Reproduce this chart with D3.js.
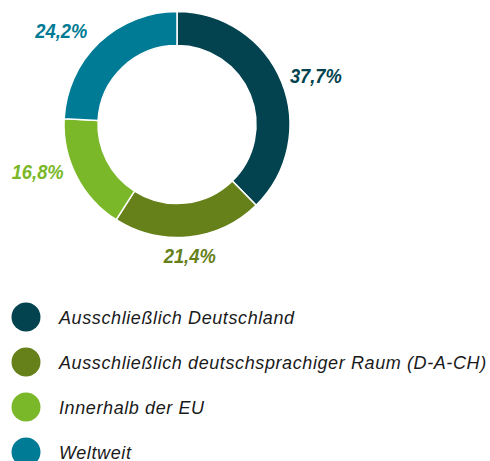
<!DOCTYPE html>
<html>
<head>
<meta charset="utf-8">
<script src="https://cdn.jsdelivr.net/npm/d3@7"></script>
<style>
   body { margin: 0; background: #fff; }
   svg { display: block; }
</style>
</head>
<body>
<div id="chart"></div>
<script>
// Chart data
var categories = [
   "Ausschließlich Deutschland",
   "Ausschließlich deutschsprachiger Raum (D-A-CH)",
   "Innerhalb der EU",
   "Weltweit"
];
var values = [37.7, 21.4, 16.8, 24.2];
var valueLabels = ["37,7%", "21,4%", "16,8%", "24,2%"];
var colors = ["#02434f", "#66801a", "#7ab829", "#007b95"];

// small hand tweaks of the label placement (dx, dy)
var labelNudge = [[-1, -2], [0, -4], [-4, -9], [-5, -5]];

var width = 490, height = 461;
var cx = 177, cy = 124.5;
var outerR = 113, innerR = 79, labelR = 123;

var svg = d3.select("#chart")
   .append("svg")
   .attr("width", width)
   .attr("height", height);

var pie = d3.pie().sort(null).value(function (d) { return d; });
var arc = d3.arc().innerRadius(innerR).outerRadius(outerR);

var data = pie(values);

var g = svg.append("g")
   .attr("transform", "translate(" + cx + "," + cy + ")");

// Donut slices
g.selectAll("path")
   .data(data)
   .enter().append("path")
   .attr("d", arc)
   .attr("fill", function (d, i) { return colors[i]; })
   .attr("stroke", "#fff")
   .attr("stroke-width", 1.5);

// Percentage labels outside the ring
g.selectAll("text.pct")
   .data(data)
   .enter().append("text")
   .attr("class", "pct")
   .each(function (d, i) {
      var a = (d.startAngle + d.endAngle) / 2;
      var sx = Math.sin(a), sy = -Math.cos(a);
      var t = d3.select(this);
      var anchor = "middle", dy = "0.35em";
      if (Math.abs(sx) < 0.3) {
         dy = sy > 0 ? "0.95em" : "-0.2em";
      } else {
         anchor = sx > 0 ? "start" : "end";
      }
      t.attr("x", sx * labelR + labelNudge[i][0])
         .attr("y", sy * labelR + labelNudge[i][1])
         .attr("dy", dy)
         .attr("text-anchor", anchor)
         .attr("fill", colors[i])
         .attr("textLength", 52)
         .attr("lengthAdjust", "spacingAndGlyphs")
         .style("font-family", "'Liberation Sans', sans-serif")
         .style("font-weight", "bold")
         .style("font-style", "italic")
         .style("font-size", "21px")
         .text(valueLabels[i]);
   });

// Legend
var legend = svg.append("g")
   .attr("transform", "translate(0,317)");

var items = legend.selectAll("g")
   .data(categories)
   .enter().append("g")
   .attr("transform", function (d, i) { return "translate(0," + (i * 45) + ")"; });

items.append("circle")
   .attr("cx", 26)
   .attr("cy", 0)
   .attr("r", 14.5)
   .attr("fill", function (d, i) { return colors[i]; });

items.append("text")
   .attr("x", 59)
   .attr("y", 6.5)
   .attr("fill", "#1a1a1a")
   .style("font-family", "'Liberation Sans', sans-serif")
   .style("font-style", "italic")
   .style("font-size", "18px")
   .style("letter-spacing", "0.6px")
   .text(function (d) { return d; });
</script>
</body>
</html>
